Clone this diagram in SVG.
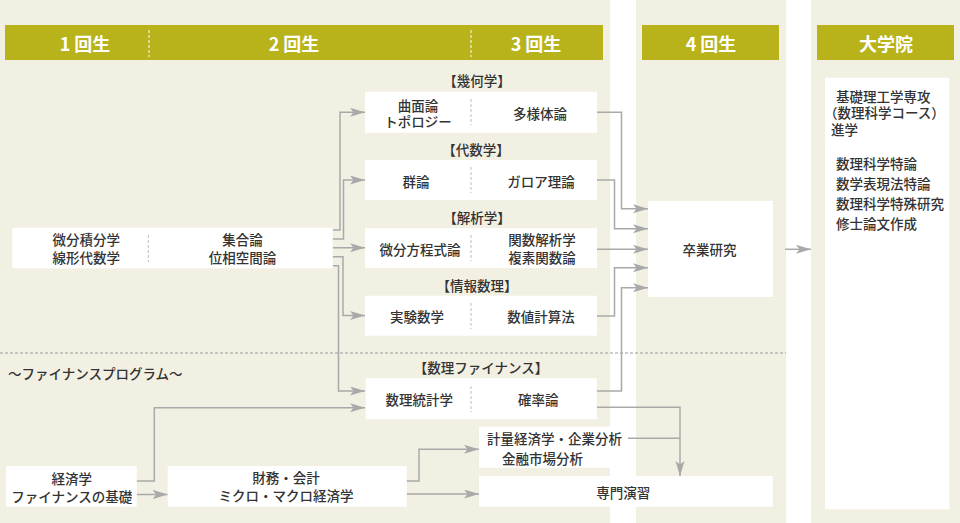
<svg xmlns="http://www.w3.org/2000/svg" width="960" height="523" viewBox="0 0 960 523">
<defs>
<style>
.bg{fill:#f2f0e3}
.stripe{fill:#ffffff}
.bar{fill:#b8b31b}
.box{fill:#ffffff}
.hd{font-family:"Noto Sans CJK JP","Noto Sans",sans-serif;font-size:18px;font-weight:bold;fill:#ffffff;text-anchor:middle;dominant-baseline:central}
.t{font-family:"Noto Sans CJK JP","Noto Sans",sans-serif;font-size:13.5px;font-weight:500;fill:#333333;dominant-baseline:central}
.c{text-anchor:middle}
.sep{stroke:#bdbdbd;stroke-width:1;stroke-dasharray:3,2;fill:none}
.hsep{stroke:#ffffff;stroke-width:1;stroke-dasharray:3,2;fill:none}
.dash{stroke:#9a9a9a;stroke-width:1;stroke-dasharray:3,2;fill:none}
.ln{stroke:#a9a9a9;stroke-width:1.5;fill:none}
.ar{marker-end:url(#arrow)}
</style>
<marker id="arrow" markerUnits="userSpaceOnUse" markerWidth="16" markerHeight="10" refX="15" refY="4.5" orient="auto">
<path d="M0,0 L15,4.5 L0,9 L3.5,4.5 Z" fill="#a9a9a9"/>
</marker>
</defs>

<!-- background panels -->
<rect class="bg" x="0" y="0" width="960" height="523"/>
<rect class="stripe" x="610" y="0" width="26" height="523"/>
<rect class="stripe" x="786" y="0" width="25" height="523"/>

<!-- header bars -->
<g id="header">
<rect class="bar" x="5" y="25" width="598" height="35"/>
<line class="hsep" x1="149" y1="30" x2="149" y2="57"/>
<line class="hsep" x1="471" y1="30" x2="471" y2="57"/>
<text class="hd" x="85" y="43">1 回生</text>
<text class="hd" x="294" y="43">2 回生</text>
<text class="hd" x="536" y="43">3 回生</text>
<rect class="bar" x="642" y="25" width="137" height="35"/>
<text class="hd" x="711" y="43">4 回生</text>
<rect class="bar" x="817" y="25" width="137" height="35"/>
<text class="hd" x="886" y="43">大学院</text>
</g>

<!-- finance program divider -->
<line class="dash" x1="0" y1="353" x2="786" y2="353"/>
<text class="t" x="8" y="373">～ファイナンスプログラム～</text>

<!-- connectors -->
<g id="connectors">
<path class="ln ar" d="M332.7,230 H340 V112.3 H365"/>
<path class="ln ar" d="M332.7,239 H343.5 V180 H365"/>
<path class="ln ar" d="M332.7,247.7 H365"/>
<path class="ln ar" d="M332.7,256.7 H343 V315.5 H365"/>
<path class="ln ar" d="M332.7,265.7 H338.5 V391 H365"/>
<path class="ln ar" d="M136.7,481 H154.3 V407.7 H365"/>
<path class="ln ar" d="M136.7,494.5 H167.7"/>
<path class="ln ar" d="M406.7,481 H419 V449.3 H479"/>
<path class="ln ar" d="M406.7,494 H479"/>
<path class="ln ar" d="M597,112.3 H621.5 V208.7 H648"/>
<path class="ln ar" d="M597,180 H614.5 V228.7 H648"/>
<path class="ln ar" d="M597,249.3 H648"/>
<path class="ln ar" d="M597,316 H614.5 V267.7 H648"/>
<path class="ln ar" d="M597,391 H621.5 V287.7 H648"/>
<path class="ln ar" d="M597,407.3 H680 V476"/>
<path class="ln" d="M628,438.3 H680"/>
<path class="ln ar" d="M785,249.3 H811"/>
</g>

<!-- year 1-2 basics -->
<g id="node-basic">
<rect class="box" x="12.3" y="227.7" width="320.4" height="40.6"/>
<line class="sep" x1="148.3" y1="235" x2="148.3" y2="262"/>
<text class="t c" x="86.3" y="239.3">微分積分学</text>
<text class="t c" x="86.3" y="257.3">線形代数学</text>
<text class="t c" x="242.6" y="239.3">集合論</text>
<text class="t c" x="242.6" y="257.3">位相空間論</text>
</g>

<!-- geometry -->
<g id="node-geometry">
<text class="t c" x="477" y="80">【幾何学】</text>
<rect class="box" x="365" y="91.7" width="232" height="41"/>
<line class="sep" x1="471" y1="99" x2="471" y2="125"/>
<text class="t c" x="418" y="105">曲面論</text>
<text class="t c" x="418" y="121">トポロジー</text>
<text class="t c" x="540" y="113">多様体論</text>
</g>

<!-- algebra -->
<g id="node-algebra">
<text class="t c" x="476" y="148.5">【代数学】</text>
<rect class="box" x="365" y="160" width="232" height="40"/>
<line class="sep" x1="471" y1="167" x2="471" y2="193"/>
<text class="t c" x="416" y="180.5">群論</text>
<text class="t c" x="541" y="180.5">ガロア理論</text>
</g>

<!-- analysis -->
<g id="node-analysis">
<text class="t c" x="477" y="216.5">【解析学】</text>
<rect class="box" x="365" y="228.3" width="232" height="39.7"/>
<line class="sep" x1="471" y1="235" x2="471" y2="261"/>
<text class="t c" x="420" y="248.5">微分方程式論</text>
<text class="t c" x="542" y="239.3">関数解析学</text>
<text class="t c" x="542" y="257.3">複素関数論</text>
</g>

<!-- informatics -->
<g id="node-info">
<text class="t c" x="477" y="284.5">【情報数理】</text>
<rect class="box" x="365" y="295.7" width="232" height="40"/>
<line class="sep" x1="471" y1="303" x2="471" y2="329"/>
<text class="t c" x="417" y="316">実験数学</text>
<text class="t c" x="541" y="316">数値計算法</text>
</g>

<!-- mathematical finance -->
<g id="node-finance">
<text class="t c" x="481" y="367">【数理ファイナンス】</text>
<rect class="box" x="365.7" y="378.3" width="231" height="41"/>
<line class="sep" x1="471" y1="386" x2="471" y2="412"/>
<text class="t c" x="419.3" y="399.3">数理統計学</text>
<text class="t c" x="538.3" y="399.3">確率論</text>
</g>

<!-- economics basics -->
<g id="node-econ">
<rect class="box" x="6" y="466" width="130.7" height="40.7"/>
<text class="t c" x="71.7" y="477.5">経済学</text>
<text class="t c" x="71.7" y="495.5">ファイナンスの基礎</text>
</g>

<!-- accounting -->
<g id="node-accounting">
<rect class="box" x="167.7" y="466" width="239" height="40.7"/>
<text class="t c" x="286" y="477">財務・会計</text>
<text class="t c" x="286" y="495">ミクロ・マクロ経済学</text>
</g>

<!-- econometrics -->
<g id="node-econometrics">
<rect class="box" x="479" y="426.7" width="149" height="41"/>
<text class="t" x="487" y="438.3">計量経済学・企業分析</text>
<text class="t" x="502" y="457.7">金融市場分析</text>
</g>

<!-- seminar -->
<g id="node-seminar">
<rect class="box" x="479" y="476" width="293.7" height="30.7"/>
<text class="t c" x="623.3" y="492">専門演習</text>
</g>

<!-- graduation research -->
<g id="node-research">
<rect class="box" x="648" y="201" width="125" height="96"/>
<text class="t c" x="709.5" y="249.3">卒業研究</text>
</g>

<!-- graduate school -->
<g id="node-graduate">
<rect class="box" x="825" y="77.7" width="124.3" height="431.6"/>
<text class="t" x="836" y="95.7">基礎理工学専攻</text>
<text class="t" x="824" y="112.3">（数理科学コース）</text>
<text class="t" x="831" y="129">進学</text>
<text class="t" x="836" y="163.3">数理科学特論</text>
<text class="t" x="836" y="183.3">数学表現法特論</text>
<text class="t" x="836" y="203.3">数理科学特殊研究</text>
<text class="t" x="836" y="223.3">修士論文作成</text>
</g>
</svg>
